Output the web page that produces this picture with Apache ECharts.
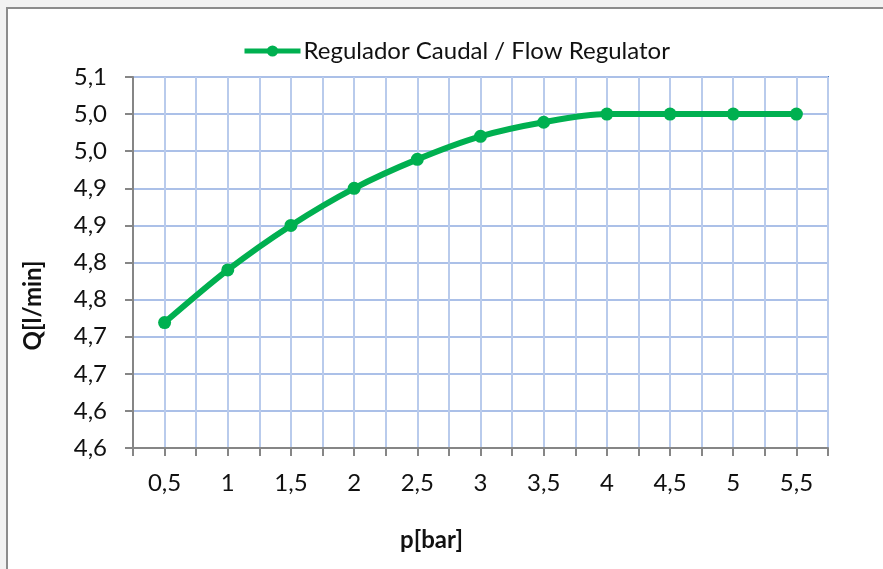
<!DOCTYPE html>
<html>
<head>
<meta charset="utf-8">
<script src="https://cdn.jsdelivr.net/npm/echarts@6/dist/echarts.min.js"></script>
<style>
html,body{margin:0;padding:0;background:#f2f2f2;}
#chart{width:883px;height:569px;}
</style>
</head>
<body>
<div id="chart"></div>
<script>
const pressures = [0.5, 1, 1.5, 2, 2.5, 3, 3.5, 4, 4.5, 5, 5.5];
const flowValues = [4.769, 4.840, 4.900, 4.950, 4.989, 5.020, 5.039, 5.050, 5.050, 5.050, 5.050];
const yTickLabels = ['4,6','4,6','4,7','4,7','4,8','4,8','4,9','4,9','5,0','5,0','5,1'];
const seriesName = 'Regulador Caudal / Flow Regulator';
const xAxisTitle = 'p[bar]';
const yAxisTitle = 'Q[l/min]';

const FONT = 'Lato';
const FS = 24;
const chart = echarts.init(document.getElementById('chart'), null, {renderer: 'canvas'});
const data = pressures.map((p, i) => [p, flowValues[i]]);

chart.setOption({
  backgroundColor: '#f2f2f2',
  animation: false,
  textStyle: {fontFamily: FONT},
  graphic: [{
    type: 'rect', z: -10, silent: true,
    shape: {x: 7, y: 8, width: 900, height: 600},
    style: {fill: '#ffffff', stroke: '#8c8c8c', lineWidth: 2}
  }],
  legend: {
    left: 237, top: 34,
    itemWidth: 56, itemHeight: 14, itemGap: 4,
    lineStyle: {width: 5},
    textStyle: {fontFamily: FONT, fontSize: FS, color: '#111', padding: [0, 0, 0, -2]},
    data: [seriesName]
  },
  grid: {
    left: 133, top: 77, right: 55, bottom: 121,
    show: true, borderColor: '#4a7cc4', borderWidth: 2, backgroundColor: 'transparent'
  },
  xAxis: {
    type: 'value', min: 0.25, max: 5.75, interval: 0.25,
    name: xAxisTitle, nameLocation: 'middle', nameGap: 80,
    nameTextStyle: {fontFamily: FONT, fontSize: FS, fontWeight: 'bold', color: '#111', padding: [0, 98, 0, 0]},
    axisLine: {lineStyle: {color: '#868686', width: 2}},
    axisTick: {show: true, length: 8, lineStyle: {color: '#868686', width: 2}},
    splitLine: {show: true, lineStyle: {color: '#b9cbec', width: 2}},
    axisLabel: {
      fontFamily: FONT, fontSize: FS, color: '#111', margin: 23,
      showMinLabel: true, showMaxLabel: true,
      formatter: function (v) {
        const k = Math.round(v * 4);
        if (k % 2 !== 0) return '';
        return String(k / 4).replace('.', ',');
      }
    }
  },
  yAxis: {
    type: 'value', min: 4.6, max: 5.1, interval: 0.05,
    name: yAxisTitle, nameLocation: 'middle', nameGap: 88, nameRotate: 90,
    nameTextStyle: {fontFamily: FONT, fontSize: FS, fontWeight: 'bold', color: '#111', padding: [0, 86, 0, 0]},
    axisLine: {show: true, lineStyle: {color: '#868686', width: 2}},
    axisTick: {show: true, length: 8, lineStyle: {color: '#868686', width: 2}},
    splitLine: {show: true, lineStyle: {color: '#abc0e8', width: 2}},
    axisLabel: {
      fontFamily: FONT, fontSize: FS, color: '#111', margin: 26,
      formatter: function (v) {
        const i = Math.round((v - 4.6) / 0.05);
        return yTickLabels[i] !== undefined ? yTickLabels[i] : '';
      }
    }
  },
  series: [{
    name: seriesName, type: 'line', data: data,
    smooth: 0.3,
    symbol: 'circle', symbolSize: 13,
    lineStyle: {color: '#00b050', width: 6},
    itemStyle: {color: '#00b050'},
    z: 5
  }]
});
</script>
</body>
</html>
